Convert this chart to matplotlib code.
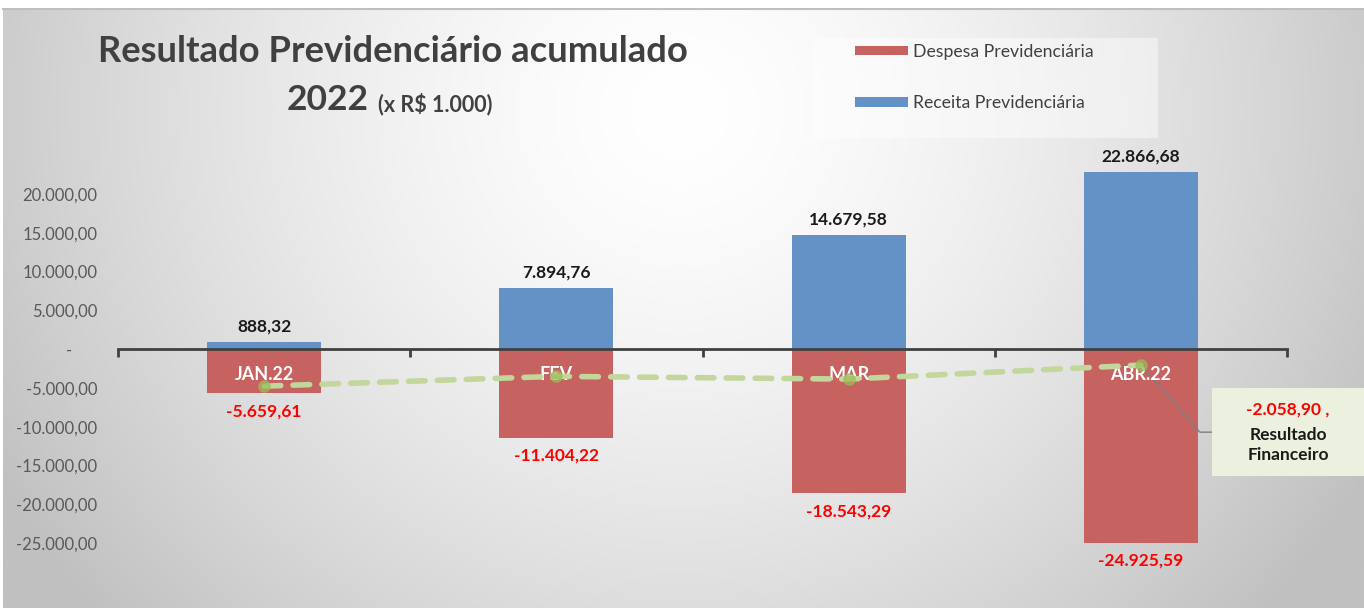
import numpy as np
import matplotlib
matplotlib.use("Agg")
import matplotlib.pyplot as plt
from matplotlib.patches import Rectangle
from matplotlib.lines import Line2D

# ---------------- data ----------------
categories = ["JAN.22", "FEV", "MAR", "ABR.22"]
receita = [888.32, 7894.76, 14679.58, 22866.68]
despesa = [-5659.61, -11404.22, -18543.29, -24925.59]
resultado = [-4771.29, -3509.46, -3863.71, -2058.90]
yticks = [20000, 15000, 10000, 5000, 0, -5000, -10000, -15000, -20000, -25000]
title_line1 = "Resultado Previdenciário acumulado"
title_year = "2022"
title_unit = "(x R$ 1.000)"
legend_labels = ["Despesa Previdenciária", "Receita Previdenciária"]
callout_label = "Resultado\nFinanceiro"

FONT = ["Lato", "DejaVu Sans"]
plt.rcParams["font.family"] = FONT

W, H = 1364, 608
fig = plt.figure(figsize=(W / 100, H / 100), dpi=100)
fig.patch.set_facecolor("white")


def fx(px):
    return px / W


def fy(py):
    return 1 - py / H


def br(v):
    s = f"{v:,.2f}"
    return s.replace(",", "X").replace(".", ",").replace("X", ".")


# ---------------- background gradient ----------------
bg = fig.add_axes([fx(3), 0, 1 - fx(3), fy(9)])
bg.set_axis_off()
gx = np.linspace(3, W, 400)
gy = np.linspace(9, H, 200)
X, Y = np.meshgrid(gx, gy)
d = np.sqrt(((X - 680) / 790) ** 2 + ((Y - 110) / 760) ** 2)
d = np.clip(d, 0, 1)
v = (255 - 63 * d ** 1.5) / 255
img = np.dstack([v, v, v])
bg.imshow(img, aspect="auto", extent=[0, 1, 0, 1], interpolation="bilinear")
bg.set_xlim(0, 1)
bg.set_ylim(0, 1)
fig.add_artist(Line2D([fx(3), 1], [fy(9), fy(9)], transform=fig.transFigure,
                      color="#bfbfbf", lw=1.5))

# ---------------- main axes ----------------
ax_left, ax_right = 118, 1287
ax_top, ax_bot = 155, 582
ax = fig.add_axes([fx(ax_left), fy(ax_bot), fx(ax_right - ax_left), (ax_bot - ax_top) / H])
ax.patch.set_alpha(0)
x = np.arange(len(categories))
bw = 0.39
red = "#c6625f"
blue = "#6592c6"
b_des = ax.bar(x, despesa, width=bw, color=red, zorder=2, label=legend_labels[0])
b_rec = ax.bar(x, receita, width=bw, color=blue, zorder=2, label=legend_labels[1])

ax.set_xlim(-0.5, len(categories) - 0.5)
ax.set_ylim(-30000, 25000)

for s in ["top", "right", "left"]:
    ax.spines[s].set_visible(False)
ax.spines["bottom"].set_position(("data", 0))
ax.spines["bottom"].set_color("#404040")
ax.spines["bottom"].set_linewidth(2)
ax.spines["bottom"].set_zorder(3)
ax.xaxis.set_zorder(3.5)

ax.set_xticks(x)
ax.set_xticklabels(categories)
ax.tick_params(axis="x", which="major", length=0, pad=12)
for t in ax.get_xticklabels():
    t.set_color("white")
    t.set_fontweight("bold")
    t.set_fontsize(13)
ax.set_xticks(np.arange(len(categories) + 1) - 0.5, minor=True)
ax.tick_params(axis="x", which="minor", length=6, width=2, color="#404040", direction="out")

ax.set_yticks(yticks)
ax.set_yticklabels([br(t) if t != 0 else "-      " for t in yticks])
ax.tick_params(axis="y", length=0, pad=15, labelsize=12, labelcolor="#595959")

# result line
ax.plot(x, resultado, color="#c3d69b", lw=4, ls=(0, (3, 2.2)), zorder=4,
        solid_capstyle="round", dash_capstyle="round")
ax.plot(x, resultado, ls="none", marker="o", ms=8, color="#9bbb59", alpha=0.7, zorder=4)

# data labels
for xi, r in zip(x, receita):
    ax.annotate(br(r), (xi, r), xytext=(0, 11), textcoords="offset points",
                ha="center", va="center", fontsize=12.5, fontweight="bold", color="#1a1a1a")
for xi, dv in zip(x, despesa):
    ax.annotate(br(dv), (xi, dv), xytext=(0, -13), textcoords="offset points",
                ha="center", va="center", fontsize=12.5, fontweight="bold", color="#ff0000")

# callout
ax.plot([x[-1], 3.202, 3.243], [resultado[-1], -10700, -10700], color="#7f7f7f",
        lw=1, zorder=3, clip_on=False)
fig.add_artist(Rectangle((fx(1212), fy(476)), fx(W - 1212), (476 - 388) / H,
                         transform=fig.transFigure, facecolor="#ebf1de",
                         edgecolor="none", zorder=5))
fig.text(fx(1288), fy(410), br(resultado[-1]) + " ,", ha="center", va="center",
         fontsize=12.5, fontweight="bold", color="#ff0000", zorder=6)
fig.text(fx(1288), fy(445), callout_label, ha="center", va="center",
         fontsize=12.5, fontweight="bold", color="#1a1a1a", linespacing=1.3, zorder=6)

# title
fig.text(fx(393), fy(51), title_line1, ha="center", va="center", fontsize=26.2,
         fontweight="bold", color="#404040")
fig.text(fx(369), fy(100), title_year, ha="right", va="center", fontsize=25.5,
         fontweight="bold", color="#404040")
fig.text(fx(378), fy(104), title_unit, ha="left", va="center", fontsize=15.5,
         fontweight="bold", color="#404040")

# legend
fig.add_artist(Rectangle((fx(812), fy(138)), fx(1158 - 812), 100 / H,
                         transform=fig.transFigure, facecolor="white", alpha=0.45,
                         edgecolor="none", zorder=1))
leg = fig.legend(handles=[b_des, b_rec], labels=legend_labels, loc="upper left",
                 bbox_to_anchor=(fx(855), fy(44)), frameon=False, fontsize=12.7,
                 handlelength=3.0, handleheight=0.45, handletextpad=0.3,
                 labelspacing=2.0, borderpad=0, borderaxespad=0)
for t in leg.get_texts():
    t.set_color("#404040")

fig.savefig("out.png", dpi=100)
